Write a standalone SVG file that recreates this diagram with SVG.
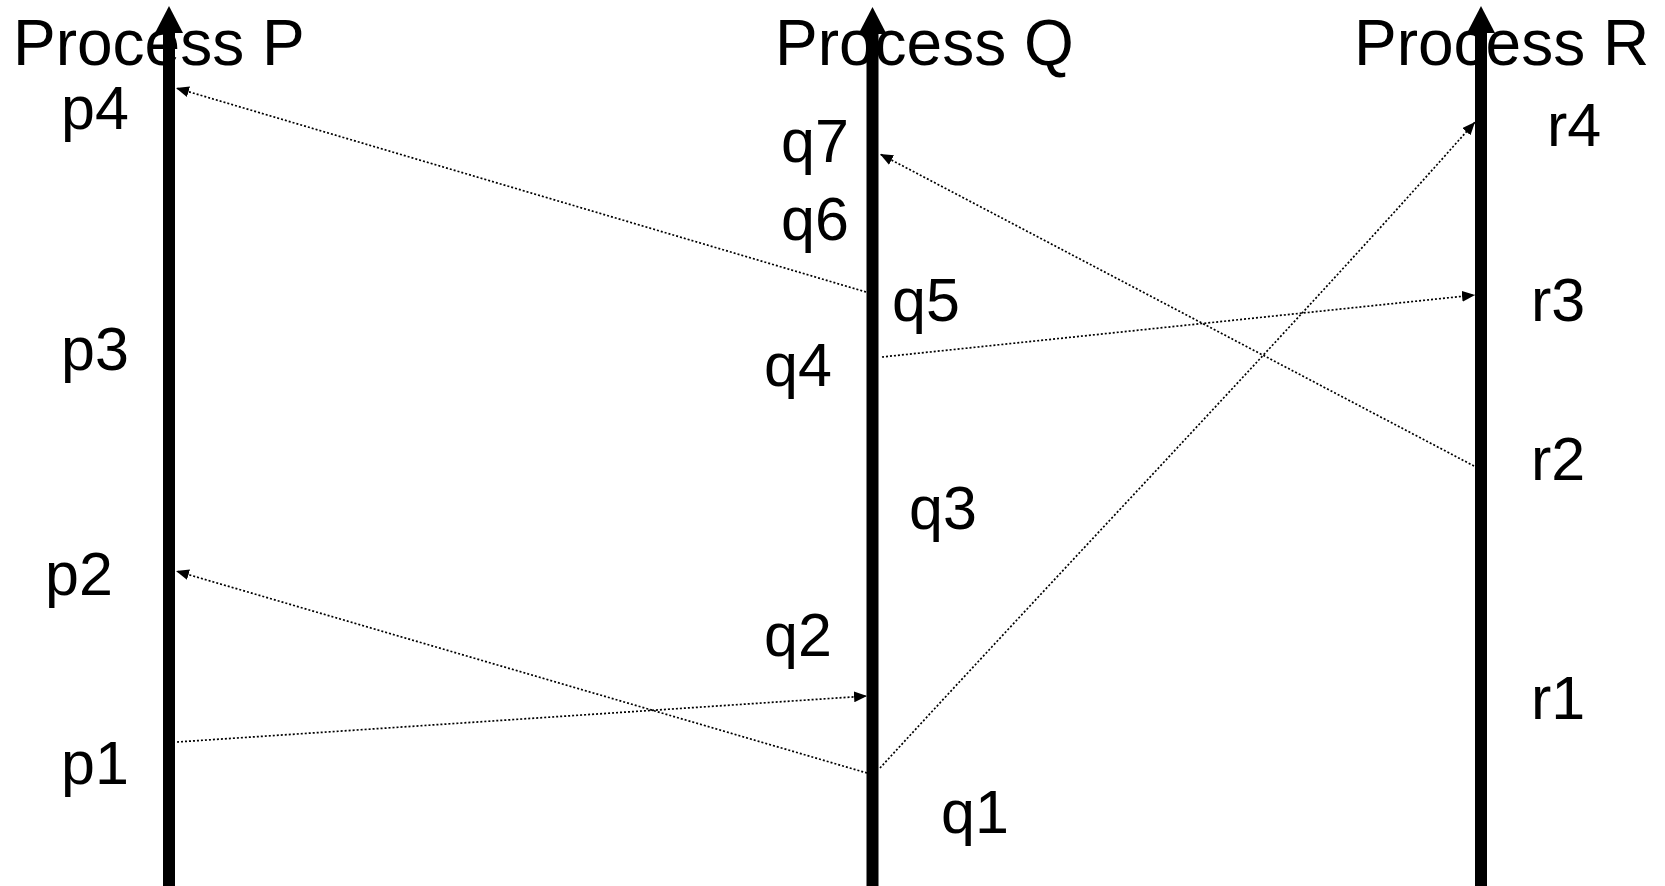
<svg xmlns="http://www.w3.org/2000/svg" width="1665" height="886" viewBox="0 0 1665 886">
  <style>
    .title { font-family: "Liberation Sans", Arial, sans-serif; font-size: 64px; fill: #000; }
    .evt { font-family: "Liberation Sans", Arial, sans-serif; font-size: 61px; fill: #000; }
    .timeline { stroke: #000; stroke-width: 12; fill: none; }
    .head { fill: #000; }
    .msg { stroke: #000; stroke-width: 1.7; stroke-dasharray: 2 2; fill: none; marker-end: url(#tip); }
  </style>
  <defs>
    <marker id="tip" viewBox="0 0 12 10" refX="12" refY="5" markerWidth="13" markerHeight="11" markerUnits="userSpaceOnUse" orient="auto">
      <path d="M0,0 L12,5 L0,10 Z" fill="#000"/>
    </marker>
  </defs>
  <rect width="1665" height="886" fill="#fff"/>

  <!-- process P -->
  <g id="process-p">
    <text class="title" x="13" y="65">Process P</text>
    <line class="timeline" x1="169" y1="886" x2="169" y2="30"/>
    <path class="head" d="M169,6 L183,33 L155,33 Z"/>
    <text class="evt" x="61" y="129">p4</text>
    <text class="evt" x="61" y="370">p3</text>
    <text class="evt" x="45" y="595">p2</text>
    <text class="evt" x="61" y="784">p1</text>
  </g>

  <!-- process Q -->
  <g id="process-q">
    <text class="title" x="775" y="65">Process Q</text>
    <line class="timeline" x1="872.5" y1="886" x2="872.5" y2="30"/>
    <path class="head" d="M872.5,7 L886.5,34 L858.5,34 Z"/>
    <text class="evt" x="781" y="162">q7</text>
    <text class="evt" x="781" y="240">q6</text>
    <text class="evt" x="892" y="321">q5</text>
    <text class="evt" x="764" y="386">q4</text>
    <text class="evt" x="909" y="529">q3</text>
    <text class="evt" x="764" y="656">q2</text>
    <text class="evt" x="941" y="833">q1</text>
  </g>

  <!-- process R -->
  <g id="process-r">
    <text class="title" x="1354" y="65">Process R</text>
    <line class="timeline" x1="1481" y1="886" x2="1481" y2="30"/>
    <path class="head" d="M1481,6 L1495,33 L1467,33 Z"/>
    <text class="evt" x="1547" y="146">r4</text>
    <text class="evt" x="1531" y="321">r3</text>
    <text class="evt" x="1531" y="480">r2</text>
    <text class="evt" x="1531" y="719">r1</text>
  </g>

  <!-- messages -->
  <g id="messages">
    <line class="msg" x1="866" y1="292" x2="176" y2="88"/>
    <line class="msg" x1="867" y1="773" x2="176" y2="571"/>
    <line class="msg" x1="177" y1="742" x2="867" y2="696"/>
    <line class="msg" x1="882" y1="357" x2="1475" y2="295"/>
    <line class="msg" x1="1474" y1="466" x2="880" y2="154"/>
    <path class="msg" d="M880,768 C1080,550 1300,320 1475,122"/>
  </g>
</svg>
